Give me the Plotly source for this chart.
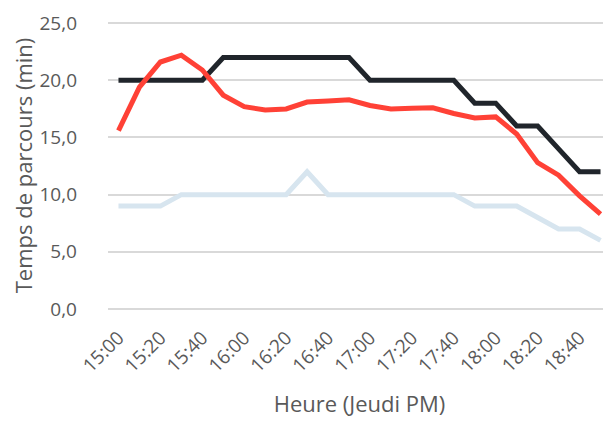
import plotly.graph_objects as go

heures = ["15:00", "15:10", "15:20", "15:30", "15:40", "15:50",
          "16:00", "16:10", "16:20", "16:30", "16:40", "16:50",
          "17:00", "17:10", "17:20", "17:30", "17:40", "17:50",
          "18:00", "18:10", "18:20", "18:30", "18:40", "18:50"]
tick_labels = heures[::2]

temps_max = [20, 20, 20, 20, 20, 22, 22, 22, 22, 22, 22, 22,
             20, 20, 20, 20, 20, 18, 18, 16, 16, 14, 12, 12]
temps_moyen = [15.6, 19.4, 21.6, 22.2, 20.9, 18.7, 17.7, 17.4, 17.5, 18.1, 18.2, 18.3,
               17.8, 17.5, 17.55, 17.6, 17.1, 16.7, 16.8, 15.3, 12.8, 11.7, 9.9, 8.3]
temps_min = [9, 9, 9, 10, 10, 10, 10, 10, 10, 12, 10, 10,
             10, 10, 10, 10, 10, 9, 9, 9, 8, 7, 7, 6]

fig = go.Figure()
# ordre de dessin : bleu clair, noir, rouge
fig.add_trace(go.Scatter(x=heures, y=temps_min, mode="lines",
                         line=dict(color="#d7e5ef", width=5)))
fig.add_trace(go.Scatter(x=heures, y=temps_max, mode="lines",
                         line=dict(color="#20252b", width=5)))
fig.add_trace(go.Scatter(x=heures, y=temps_moyen, mode="lines",
                         line=dict(color="#ff4136", width=5)))

# la page html a une marge de 8px, d'ou 603x417
fig.update_layout(
    width=603, height=417,
    margin=dict(l=100, r=0, t=14, b=116),
    plot_bgcolor="white", paper_bgcolor="white",
    showlegend=False,
    separators=", ",
    font=dict(family="Open Sans, Liberation Sans, sans-serif", color="#595959", size=19),
)
fig.update_xaxes(
    type="category", range=[-0.5, 23.5], automargin=False,
    tickvals=tick_labels, ticktext=tick_labels, tickangle=-45,
    showgrid=False, showline=False, ticks="", ticklabelstandoff=13,
    tickfont=dict(size=19),
    title=dict(text="Heure (Jeudi PM)", font=dict(size=22), standoff=19),
)
fig.update_yaxes(
    range=[0, 25.1], tickvals=[0, 5, 10, 15, 20, 25], tickformat=".1f", automargin=False,
    showgrid=True, gridcolor="#d9d9d9", gridwidth=1.5,
    zeroline=True, zerolinecolor="#d9d9d9", zerolinewidth=1.5,
    ticks="", tickfont=dict(size=19), ticklabelstandoff=30, ticklabeloverflow="allow",
    title=dict(text="Temps de parcours (min)", font=dict(size=22), standoff=6),
)

fig.write_html("out.html")
